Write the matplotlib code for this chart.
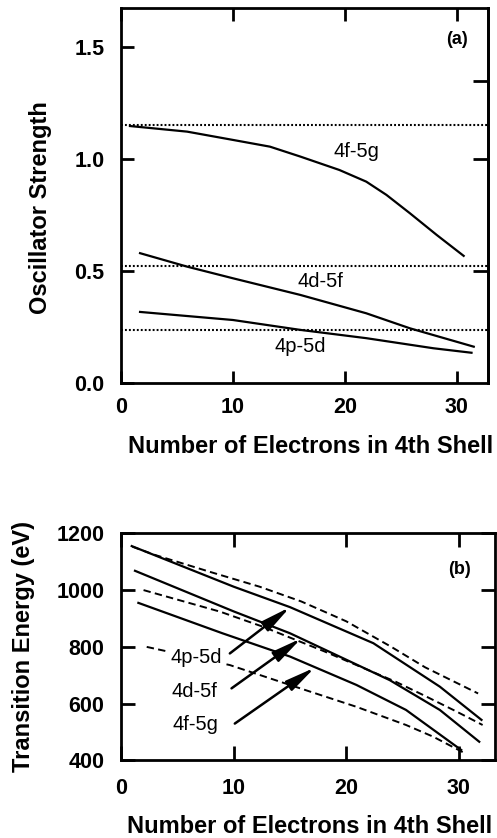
import matplotlib
matplotlib.use('Agg')
import matplotlib.pyplot as plt
from matplotlib.ticker import FormatStrFormatter

# (a) oscillator strength vs number of electrons in 4th shell
fg_x = [0.8, 5.9, 10.0, 13.3, 16.0, 19.5, 21.9, 23.7, 25.8, 28.2, 30.6]
fg_f = [1.148, 1.123, 1.086, 1.056, 1.012, 0.952, 0.900, 0.841, 0.759, 0.662, 0.569]
df_x = [1.7, 5.9, 10.0, 16.0, 21.9, 25.8, 31.5]
df_f = [0.581, 0.521, 0.469, 0.395, 0.313, 0.246, 0.164]
pd_x = [1.7, 10.0, 16.0, 21.9, 27.9, 31.3]
pd_f = [0.319, 0.283, 0.239, 0.202, 0.157, 0.137]
f_limits = [1.153, 0.525, 0.239]   # dotted reference levels

# (b) transition energy (eV), solid and dashed curves
pd_sol_x = [0.95, 10.0, 15.0, 22.4, 28.3, 32.0]
pd_sol_e = [1155, 1012, 940, 813, 660, 543]
pd_dash_x = [1.0, 3.0, 8.0, 12.3, 16.0, 20.0, 24.0, 27.0, 31.7]
pd_dash_e = [1153, 1124, 1063, 1012, 960, 890, 800, 728, 636]
df_sol_x = [1.24, 10.0, 15.0, 23.85, 28.3, 31.8]
df_sol_e = [1068, 925, 848, 683, 578, 466]
df_dash_x = [2.0, 8.8, 12.6, 18.0, 24.4, 26.8, 29.8, 32.1]
df_dash_e = [1000, 924, 871, 785, 677, 631, 572, 525]
fg_sol_x = [1.54, 9.0, 15.0, 20.9, 25.3, 30.2]
fg_sol_e = [955, 848, 766, 666, 578, 437]
fg_dash_x = [2.28, 9.66, 15.6, 20.9, 25.3, 27.7, 30.4]
fg_dash_e = [800, 736, 658, 589, 525, 484, 428]

labels = ['4p-5d', '4d-5f', '4f-5g']
lab_a_pos = [(16.0, 0.142), (17.8, 0.432), (21.0, 1.009)]
lab_b_pos = [(6.65, 744), (6.5, 624), (6.6, 509)]
arrow_tail = [(9.66, 777), (9.81, 654), (10.1, 530)]
arrow_head = [(15.0, 940), (16.0, 830), (17.2, 727)]

plt.rcParams['font.family'] = ['Liberation Sans', 'DejaVu Sans']
plt.rcParams['font.weight'] = 'bold'
plt.rcParams['axes.labelweight'] = 'bold'

fig = plt.figure(figsize=(4.97, 8.38), dpi=100)
ax1 = fig.add_axes([0.2435, 0.5424, 0.739, 0.4477])
ax2 = fig.add_axes([0.2435, 0.0925, 0.7525, 0.2711])

lw = 1.6
ax1.plot(fg_x, fg_f, color='k', lw=lw)
ax1.plot(df_x, df_f, color='k', lw=lw)
ax1.plot(pd_x, pd_f, color='k', lw=lw)
for v in f_limits:
	ax1.axhline(v, color='k', lw=1.5, ls=(0, (0.9, 1.0)))
for lab, (x, y) in zip(labels, lab_a_pos):
	ax1.text(x, y, lab, ha='center', va='baseline', fontsize=14.5, fontweight='normal')
ax1.text(30.0, 1.532, '(a)', ha='center', va='center', fontsize=13)

ax1.set_xlim(0, 32.8)
ax1.set_ylim(0, 1.673)
ax1.set_xticks([0, 10, 20, 30])
ax1.set_yticks([0, 0.5, 1.0, 1.5])
ax1.yaxis.set_major_formatter(FormatStrFormatter('%.1f'))
ax1.tick_params(direction='in', length=9, width=2, labelsize=15.5, top=True, right=False)
ax1.tick_params(axis='x', pad=10)
ax1.tick_params(axis='y', pad=12)
sec = ax1.secondary_yaxis('right')
sec.set_yticks([0.5, 1.0, 1.35])
sec.tick_params(direction='in', length=11, width=2, labelright=False)
sec.spines['right'].set_linewidth(2)
ax1.set_xlabel('Number of Electrons in 4th Shell', fontsize=17)
ax1.set_ylabel('Oscillator Strength', fontsize=17)
ax1.xaxis.set_label_coords(0.515, -0.137)
ax1.yaxis.set_label_coords(-0.188, 0.468)

dash = (0, (3.8, 2.2))
ax2.plot(pd_sol_x, pd_sol_e, color='k', lw=lw)
ax2.plot(df_sol_x, df_sol_e, color='k', lw=lw)
ax2.plot(fg_sol_x, fg_sol_e, color='k', lw=lw)
ax2.plot(pd_dash_x, pd_dash_e, color='k', lw=1.4, ls=dash)
ax2.plot(df_dash_x, df_dash_e, color='k', lw=1.4, ls=dash)
ax2.plot(fg_dash_x, fg_dash_e, color='k', lw=1.4, ls=dash)
for lab, (x, y), t, h in zip(labels, lab_b_pos, arrow_tail, arrow_head):
	ax2.text(x, y, lab, ha='center', va='baseline', fontsize=14.5, fontweight='normal', zorder=5,
		bbox=dict(fc='white', ec='none', pad=1))
	ax2.annotate('', xy=h, xytext=t,
		arrowprops=dict(arrowstyle='-|>,head_length=1.8,head_width=0.35', color='k', lw=1.8,
			shrinkA=0, shrinkB=0, mutation_scale=10))
ax2.text(30.05, 1072, '(b)', ha='center', va='center', fontsize=13)

ax2.set_xlim(0, 33.2)
ax2.set_ylim(400, 1200)
ax2.set_xticks([0, 10, 20, 30])
ax2.set_yticks([400, 600, 800, 1000, 1200])
ax2.tick_params(direction='in', length=10, width=2, labelsize=15.5, top=True, right=True)
ax2.tick_params(axis='x', pad=12.5)
ax2.tick_params(axis='y', pad=12)
ax2.set_xlabel('Number of Electrons in 4th Shell', fontsize=17)
ax2.set_ylabel('Transition Energy (eV)', fontsize=17)
ax2.xaxis.set_label_coords(0.505, -0.24)
ax2.yaxis.set_label_coords(-0.230, 0.5)

for ax in (ax1, ax2):
	for sp in ax.spines.values():
		sp.set_linewidth(2)

fig.savefig('out.png', dpi=100)
